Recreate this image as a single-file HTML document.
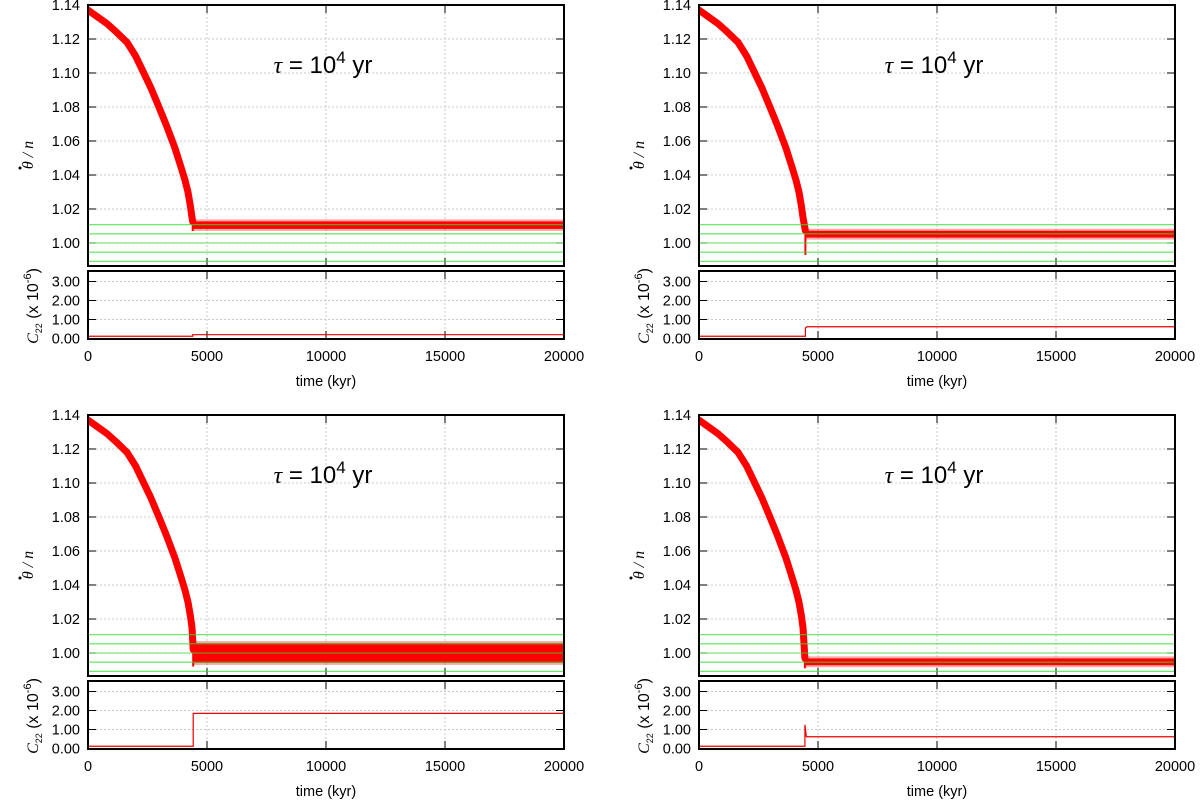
<!DOCTYPE html>
<html><head><meta charset="utf-8"><style>
body{margin:0;background:#fff}
svg{display:block;font-family:"Liberation Sans",sans-serif}
</style></head><body>
<svg id="fig" width="1200" height="805" viewBox="0 0 1200 805" xmlns="http://www.w3.org/2000/svg"></svg>
<script>
// Shared decay curve (time kyr, spin rate theta-dot/n)
const decayTimes = [0, 400, 800, 1200, 1640, 2000, 2310, 2650, 2980, 3300, 3650, 3900, 4075, 4200, 4300, 4370];
const decayValues = [1.137, 1.133, 1.129, 1.124, 1.118, 1.110, 1.101, 1.091, 1.080, 1.069, 1.056, 1.045, 1.037, 1.030, 1.022, 1.015];
// Resonance reference lines (green)
const resonanceLevels = [1.0108, 1.0054, 1.0, 0.9946, 0.9892];
// Per-panel values
const panelNames = ["top-left", "top-right", "bottom-left", "bottom-right"];
const transitionTimes = [4400, 4470, 4420, 4450];
const plateauCenters = [1.0105, 1.0052, 1.0, 0.9948];
const plateauHalfWidths = [0.0022, 0.002, 0.0058, 0.002];
const transitionDips = [1.007, 0.993, 0.992, 0.991];
const c22Before = [0.12, 0.12, 0.12, 0.12];
const c22After = [0.2, 0.62, 1.85, 0.62];
const c22Spike = [0.2, 0.55, 1.85, 1.25];
const xTicks = [0, 5000, 10000, 15000, 20000];
const yTicks = [1.00, 1.02, 1.04, 1.06, 1.08, 1.10, 1.12, 1.14];
const cTicks = [0, 1, 2, 3];

const NS = "http://www.w3.org/2000/svg";
const svg = document.getElementById("fig");
function mk(tag, attrs, parent) {
  const e = document.createElementNS(NS, tag);
  for (const k in attrs) e.setAttribute(k, attrs[k]);
  (parent || svg).appendChild(e);
  return e;
}
const origins = [[88, 0], [699, 0], [88, 410], [699, 410]];

panelNames.forEach((pn, i) => {
  const [ox, oy] = origins[i];
  const L = ox, R = ox + 476;
  const mTop = 5 + oy, mBot = 266 + oy;
  const cTop = 271 + oy, cBot = 339 + oy;
  const X = t => L + t / 20000 * (R - L);
  const Y = v => mTop + (1.14 - v) / 0.02 * 34;
  const C = v => 338.5 + oy - v * 19;
  const g = mk("g", {});
  
  
  const defsId = "clip" + i;
  const defs = mk("defs", {}, g);
  const cp = mk("clipPath", {id: defsId}, defs);
  mk("rect", {x: L, y: mTop, width: R - L, height: mBot - mTop}, cp);
  const cp2 = mk("clipPath", {id: defsId + "c"}, defs);
  mk("rect", {x: L, y: cTop, width: R - L, height: cBot - cTop}, cp2);

  yTicks.forEach(v => {
    const l = mk("line", {x1: L, x2: R, y1: Y(v), y2: Y(v), stroke: "#bbb", "stroke-dasharray": "2,2", "stroke-width": 0.8}, g);
    
    
    const t = mk("text", {x: L - 8, y: Y(v) + 5, "text-anchor": "end", "font-size": 14.5}, g);
    t.textContent = v.toFixed(2);
    
    
    mk("line", {x1: L, x2: L + 8, y1: Y(v), y2: Y(v), stroke: "#000"}, g);
    mk("line", {x1: R, x2: R - 8, y1: Y(v), y2: Y(v), stroke: "#000"}, g);
  });
  xTicks.forEach(t0 => {
    mk("line", {x1: X(t0), x2: X(t0), y1: mTop, y2: mBot, stroke: "#bbb", "stroke-dasharray": "2,2", "stroke-width": 0.8}, g);
    mk("line", {x1: X(t0), x2: X(t0), y1: cTop, y2: cBot, stroke: "#bbb", "stroke-dasharray": "2,2", "stroke-width": 0.8}, g);
    mk("line", {x1: X(t0), x2: X(t0), y1: mTop, y2: mTop + 8, stroke: "#000"}, g);
    mk("line", {x1: X(t0), x2: X(t0), y1: mBot, y2: mBot - 8, stroke: "#000"}, g);
    mk("line", {x1: X(t0), x2: X(t0), y1: cTop, y2: cTop + 8, stroke: "#000"}, g);
    mk("line", {x1: X(t0), x2: X(t0), y1: cBot, y2: cBot - 8, stroke: "#000"}, g);
    const t = mk("text", {x: X(t0), y: cBot + 22, "text-anchor": "middle", "font-size": 14.5}, g);
    t.textContent = t0;
    
    
  });
  cTicks.forEach(v => {
    mk("line", {x1: L, x2: R, y1: C(v), y2: C(v), stroke: "#bbb", "stroke-dasharray": "2,2", "stroke-width": 0.8}, g);
    mk("line", {x1: L, x2: L + 8, y1: C(v), y2: C(v), stroke: "#000"}, g);
    mk("line", {x1: R, x2: R - 8, y1: C(v), y2: C(v), stroke: "#000"}, g);
    const t = mk("text", {x: L - 8, y: C(v) + 5, "text-anchor": "end", "font-size": 14.5}, g);
    t.textContent = v.toFixed(2);
    
    
  });

  const dg = mk("g", {"clip-path": "url(#" + defsId + ")"}, g);
  const tt = transitionTimes[i];
  let pts = decayTimes.map((t, k) => X(t) + "," + Y(decayValues[k]));
  pts.push(X(tt) + "," + Y(plateauCenters[i] + 0.002));
  const pl = mk("polyline", {points: pts.join(" "), fill: "none", stroke: "#f00", "stroke-width": 7, "stroke-linejoin": "round", "stroke-linecap": "round"}, dg);
  
  
  mk("line", {x1: X(tt), x2: X(tt), y1: Y(plateauCenters[i] + plateauHalfWidths[i]), y2: Y(transitionDips[i]), stroke: "#f00", "stroke-width": 2}, dg);
  const hw = plateauHalfWidths[i];
  const band = mk("rect", {x: X(tt), y: Y(plateauCenters[i] + hw), width: X(20000) - X(tt), height: Y(plateauCenters[i] - hw) - Y(plateauCenters[i] + hw), fill: "#f00"}, dg);
  
  
  mk("rect", {x: X(tt), y: Y(plateauCenters[i] + hw + 0.0012), width: X(20000) - X(tt), height: Y(plateauCenters[i] - hw - 0.0012) - Y(plateauCenters[i] + hw + 0.0012), fill: "#f00", "fill-opacity": 0.35}, dg);
  resonanceLevels.forEach(v => {
    const l = mk("line", {x1: L, x2: R, y1: Y(v), y2: Y(v), stroke: "#33dd33", "stroke-width": 1.1, "stroke-opacity": 0.8}, dg);
    
    
  });

  const cg = mk("g", {"clip-path": "url(#" + defsId + "c)"}, g);
  const cp3 = [X(0) + "," + C(c22Before[i]), X(tt) + "," + C(c22Before[i]), X(tt) + "," + C(c22Spike[i]), X(tt + 60) + "," + C(c22After[i]), X(20000) + "," + C(c22After[i])];
  const cl = mk("polyline", {points: cp3.join(" "), fill: "none", stroke: "#e00", "stroke-width": 1.2}, cg);
  
  

  mk("rect", {x: L, y: mTop, width: R - L, height: mBot - mTop, fill: "none", stroke: "#000", "stroke-width": 2}, g);
  mk("rect", {x: L, y: cTop, width: R - L, height: cBot - cTop, fill: "none", stroke: "#000", "stroke-width": 2}, g);

  const ti = mk("text", {x: L + 235, y: mTop + 68, "text-anchor": "middle", "font-size": 24}, g);
  ti.innerHTML = '<tspan font-family="Liberation Serif" font-style="italic">τ</tspan> = 10<tspan dy="-10" font-size="17">4</tspan><tspan dy="10"> yr</tspan>';
  
  
  const yl = mk("text", {transform: "translate(" + (L - 55) + "," + (mTop + 150) + ") rotate(-90)", "text-anchor": "middle", "font-size": 16, "font-family": "Liberation Serif", "font-style": "italic"}, g);
  yl.textContent = "θ / n";
  
  
  mk("circle", {cx: L - 68, cy: mTop + 163, r: 1.5, fill: "#000"}, g);
  const cl2 = mk("text", {transform: "translate(" + (L - 50) + "," + (cTop + 35) + ") rotate(-90)", "text-anchor": "middle", "font-size": 16}, g);
  cl2.innerHTML = '<tspan font-family="Liberation Serif" font-style="italic">C</tspan><tspan font-size="9" dy="4">22</tspan><tspan dy="-4"> (x 10</tspan><tspan font-size="11" dy="-7">-6</tspan><tspan dy="7">)</tspan>';
  
  
  const xl = mk("text", {x: (L + R) / 2, y: 386 + oy, "text-anchor": "middle", "font-size": 14.5}, g);
  xl.textContent = "time (kyr)";
  
  
});
</script>
</body></html>
